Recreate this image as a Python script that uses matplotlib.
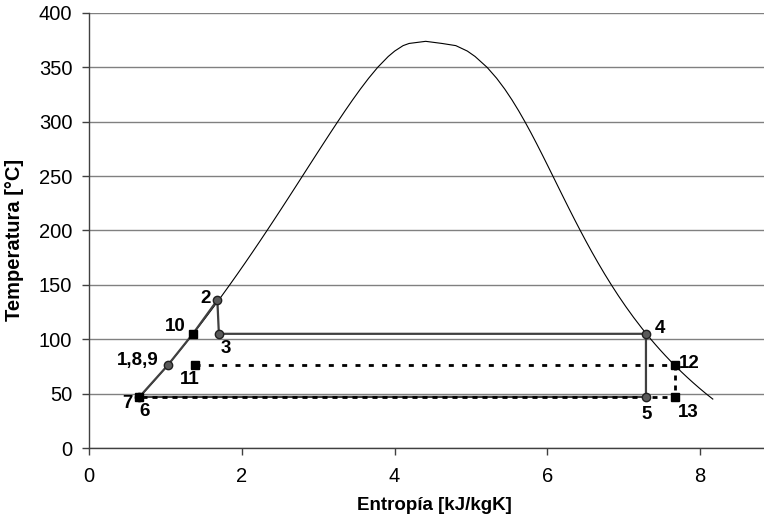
import matplotlib
matplotlib.use("Agg")
import matplotlib.pyplot as plt

plt.rcParams['font.family'] = ['Liberation Sans', 'DejaVu Sans']
plt.rcParams['lines.scale_dashes'] = False

# saturation dome of water (steam table)
t_sat = [45, 50, 55, 60, 65, 70, 75, 80, 85, 90, 95, 100, 110, 120, 130, 140, 150,
         160, 170, 180, 190, 200, 210, 220, 230, 240, 250, 260, 270, 280, 290, 300,
         310, 320, 330, 340, 350, 360, 365, 370, 372, 373.95]
s_liq = [0.6387, 0.7038, 0.7680, 0.8313, 0.8937, 0.9551, 1.0158, 1.0756, 1.1346,
         1.1929, 1.2504, 1.3072, 1.4188, 1.5279, 1.6346, 1.7392, 1.8418, 1.9426,
         2.0417, 2.1392, 2.2355, 2.3305, 2.4245, 2.5177, 2.6101, 2.7020, 2.7935,
         2.8849, 2.9765, 3.0685, 3.1612, 3.2552, 3.3510, 3.4494, 3.5518, 3.6601,
         3.7784, 3.9167, 4.0014, 4.1112, 4.19, 4.4070]
s_vap = [8.1648, 8.0748, 7.9898, 7.9081, 7.8296, 7.7540, 7.6812, 7.6111, 7.5434,
         7.4781, 7.4151, 7.3541, 7.2382, 7.1291, 7.0264, 6.9293, 6.8371, 6.7491,
         6.6650, 6.5841, 6.5059, 6.4302, 6.3563, 6.2840, 6.2128, 6.1423, 6.0721,
         6.0016, 5.9304, 5.8579, 5.7834, 5.7059, 5.6244, 5.5372, 5.4422, 5.3356,
         5.2110, 5.0536, 4.9519, 4.8012, 4.62, 4.4070]

# main cycle 1-2-3-4-5-6-1 (1 = 1,8,9)
cyc_lbl = ['1,8,9', '10', '2', '3', '4', '5', '6']
cyc_s = [1.03, 1.36, 1.68, 1.70, 7.29, 7.29, 0.66, 1.03]
cyc_t = [76, 105, 136, 105, 105, 47, 47, 76]

# secondary (dotted) states 10-11-12-13-7
sec_lbl = ['10', '11', '12', '13', '7']
sec_s = [1.36, 1.39, 7.67, 7.67, 0.66]
sec_t = [105, 76, 76, 47, 47]

fig = plt.figure(figsize=(7.64, 5.25), dpi=100)
ax = fig.add_axes([89 / 764, 77 / 525, 675 / 764, 435 / 525])

dome_s = s_liq + s_vap[::-1]
dome_t = t_sat + t_sat[::-1]
ax.plot(dome_s, dome_t, color='black', lw=0.8, zorder=3)

ax.plot(cyc_s, cyc_t, color='#404040', lw=1.6, zorder=4)
circ = [0, 2, 3, 4, 5, 6]
ax.plot([cyc_s[i] for i in circ], [cyc_t[i] for i in circ], ls='none', marker='o',
        ms=6, mfc='#5a5a5a', mec='#202020', mew=1, zorder=6)

ax.plot(sec_s[:2], sec_t[:2], color='black', lw=2, dashes=(2, 30), zorder=5)
ax.plot(sec_s[1:3], sec_t[1:3], color='black', lw=2, dashes=(3.6, 6.0), zorder=5)
ax.plot(sec_s[2:], sec_t[2:], color='black', lw=2, dashes=(3.6, 3.6), zorder=5)
ax.plot(sec_s, sec_t, ls='none', marker='s', ms=5.5, color='black', zorder=7)

# label offsets in pixels
offs = {'1,8,9': (-30, 5), '10': (-18, 7), '2': (-12, 2), '3': (7, -15),
        '4': (14, 5), '5': (1, -18), '6': (5, -15), '11': (-5, -14),
        '12': (14, 2), '13': (13, -16), '7': (-12, -7)}
pts = dict(zip(cyc_lbl, zip(cyc_s, cyc_t)))
pts.update(zip(sec_lbl, zip(sec_s, sec_t)))
for name, (s, t) in pts.items():
    ax.annotate(name, (s, t), xytext=offs[name], textcoords='offset pixels',
                ha='center', va='center', fontsize=13.5, fontweight='bold', zorder=8)

ax.set_xlim(0, 675 / 76.4)
ax.set_ylim(0, 400)
ax.set_xticks([0, 2, 4, 6, 8])
ax.set_yticks(range(0, 401, 50))
ax.yaxis.grid(True, color='#808080', lw=1.0)
ax.set_axisbelow(True)
for sp in ['top', 'right']:
    ax.spines[sp].set_visible(False)
for sp in ['left', 'bottom']:
    ax.spines[sp].set_color('#404040')
    ax.spines[sp].set_linewidth(1.0)
ax.tick_params(direction='out', length=5, width=1, color='#404040', labelsize=14.5)
ax.tick_params(axis='x', pad=9)
ax.tick_params(axis='y', pad=7)

fig.text(434 / 764, 1 - 506 / 525, 'Entropía [kJ/kgK]', ha='center', va='center',
         fontsize=13.5, fontweight='bold')
fig.text(15 / 764, 1 - 240 / 525, 'Temperatura [°C]', ha='center', va='center',
         rotation=90, fontsize=14.5, fontweight='bold')

fig.savefig('out.png', dpi=100)
